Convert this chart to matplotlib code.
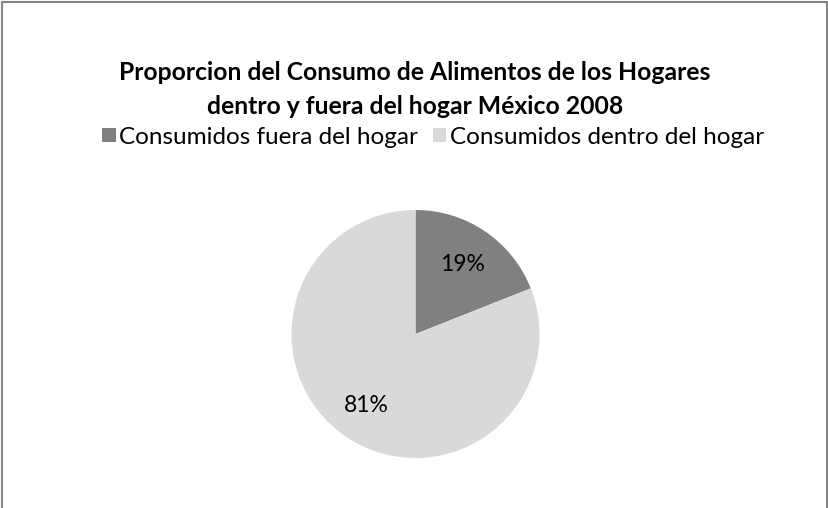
import numpy as np
import matplotlib
matplotlib.use('Agg')
import matplotlib.pyplot as plt
from matplotlib.patches import Rectangle

# Données
categorias = ['Consumidos fuera del hogar', 'Consumidos dentro del hogar']
valores = [19, 81]
etiquetas = ['19%', '81%']
colores = ['#808080', '#D9D9D9']
titulo = 'Proporcion del Consumo de Alimentos de los Hogares\ndentro y fuera del hogar México 2008'

plt.rcParams['font.family'] = ['Lato', 'DejaVu Sans']

W, H = 829, 508
fig = plt.figure(figsize=(W / 100, H / 100), dpi=100)

# Cadre du graphique
fig.patches.append(Rectangle((2 / W, -0.01), (825 / W), 1.0 - 2 / H + 0.01,
                             transform=fig.transFigure, fill=False,
                             edgecolor='#868686', linewidth=1.5))

fig.text(415 / W, 1 - 89.5 / H, titulo, ha='center', va='center',
         fontsize=17.8, fontweight='bold', linespacing=1.6)

# Camembert
r = 124
ax = fig.add_axes([(415.5 - r) / W, (H - 334 - r) / H, 2 * r / W, 2 * r / H])
wedges, _ = ax.pie(valores, colors=colores, startangle=90, counterclock=False,
                   radius=1.0)
ax.set_xlim(-1, 1)
ax.set_ylim(-1, 1)
ax.set_aspect('equal')
ax.axis('off')

# Étiquettes de pourcentage
dist = [0.68, 0.70]
for w, lab, d in zip(wedges, etiquetas, dist):
    ang = np.deg2rad((w.theta1 + w.theta2) / 2)
    ax.text(d * np.cos(ang), d * np.sin(ang), lab, ha='center', va='center',
            fontsize=16.5)

fig.legend(wedges, categorias, loc='center', bbox_to_anchor=(433 / W, 1 - 137 / H),
           ncol=2, frameon=False, fontsize=17.5, handlelength=0.55, handleheight=0.55,
           handletextpad=0.15, columnspacing=0.6)

fig.savefig('out.png', dpi=100)
